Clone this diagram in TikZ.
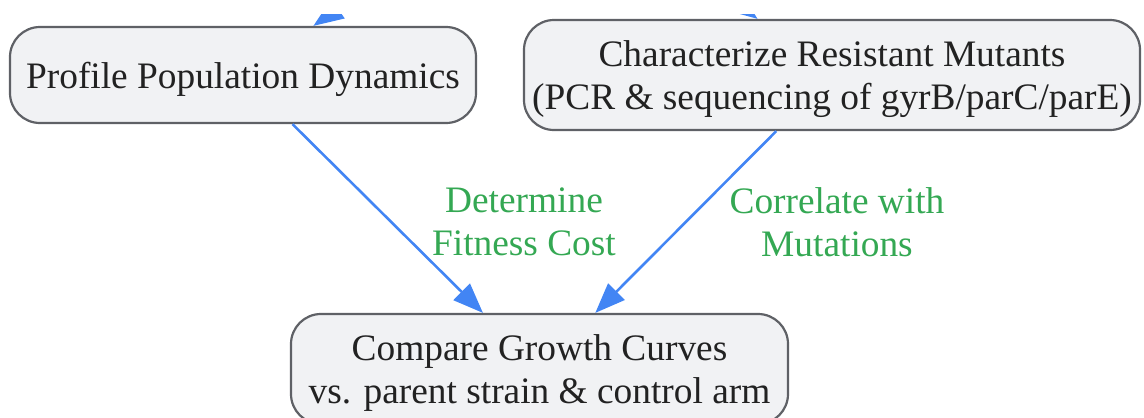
\documentclass[tikz,border=0pt]{standalone}
\usepackage{fontspec}
\setmainfont{Liberation Serif}
\usetikzlibrary{arrows.meta}
\definecolor{boxfill}{HTML}{F1F2F4}
\definecolor{boxline}{HTML}{5F6166}
\definecolor{flowblue}{HTML}{4285F4}
\definecolor{labelgreen}{HTML}{34A853}
\definecolor{textdark}{HTML}{222222}

\begin{document}
\begin{tikzpicture}[x=1bp, y=-1bp,
    stepbox/.style={draw=boxline, fill=boxfill, line width=2.2bp, rounded corners=30bp,
        inner sep=0pt, align=center, text=textdark, text depth=0pt,
        font=\fontsize{37.5}{43}\selectfont},
    flow/.style={draw=flowblue, line width=2.6bp, -{Triangle[length=30bp,width=23bp]}},
    edgelabel/.style={align=center, text=labelgreen, font=\fontsize{37.5}{43}\selectfont}]

    \useasboundingbox (0,0) rectangle (1144,417);
    \begin{scope}
        \clip (0,14) rectangle (1144,417);

        % Boxes
        \node[stepbox, minimum width=466bp, minimum height=96bp] (profile) at (243,75)
            {Profile Population Dynamics};
        \node[stepbox, minimum width=616bp, minimum height=110bp] (mutants) at (832,75)
            {Characterize Resistant Mutants\\(PCR \& sequencing of gyrB/parC/parE)};
        \node[stepbox, minimum width=497bp, minimum height=110bp] (compare) at (539.5,369)
            {Compare Growth Curves\\vs. parent strain \& control arm};

        % Incoming arrows from above
        \coordinate (upA) at (415,-45);
        \coordinate (upB) at (650,-62);
        \draw[flow] (upA) -- (profile);
        \draw[flow] (upB) -- (mutants);

        % Arrows to the comparison
        \draw[flow] (profile) -- (compare);
        \draw[flow] (mutants) -- (compare);

        % Labels on the arrows
        \node[edgelabel] (costlabel) at (524,222) {Determine\\Fitness Cost};
        \node[edgelabel] (mutlabel) at (837,222) {Correlate with\\Mutations};
    \end{scope}

\end{tikzpicture}
\end{document}
